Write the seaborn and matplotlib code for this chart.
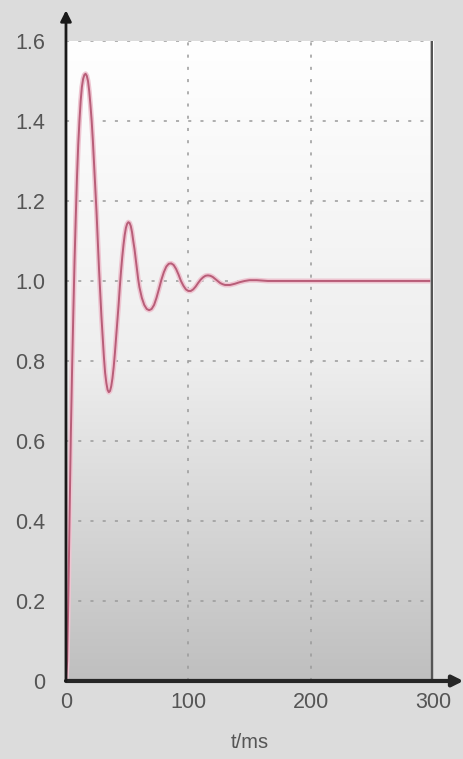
import numpy as np
import pandas as pd
import matplotlib
matplotlib.use("Agg")
import matplotlib.pyplot as plt
import seaborn as sns

# step response (t in ms, y)
t_ms = [0, 1, 2, 3, 4, 5, 6, 7, 8, 9, 10, 11, 12, 13, 14, 15, 16, 17, 18, 19,
        20, 21, 22, 23, 24, 25, 26, 27, 28, 29, 30, 31, 32, 33, 34, 35, 36, 37, 38, 39,
        40, 41, 42, 43, 44, 45, 46, 47, 48, 49, 50, 51, 52, 53, 54, 55, 56, 57, 58, 59,
        60, 62, 64, 66, 68, 70, 72, 74, 76, 78, 80, 82, 84, 86, 88, 90, 92, 94, 96, 98,
        100, 102, 104, 106, 108, 110, 112, 114, 116, 118, 120, 122, 124, 126, 128, 130,
        134, 138, 142, 146, 150, 156, 165, 300]
response = [0.0, 0.05, 0.22, 0.42, 0.62, 0.78, 0.92, 1.05, 1.16, 1.26,
            1.34, 1.40, 1.45, 1.485, 1.505, 1.515, 1.518, 1.513, 1.50, 1.475,
            1.44, 1.40, 1.35, 1.29, 1.23, 1.17, 1.10, 1.03, 0.97, 0.91,
            0.86, 0.81, 0.77, 0.745, 0.728, 0.722, 0.725, 0.737, 0.757, 0.785,
            0.82, 0.86, 0.90, 0.94, 0.985, 1.025, 1.06, 1.09, 1.115, 1.133,
            1.143, 1.147, 1.145, 1.137, 1.122, 1.10, 1.08, 1.055, 1.03, 1.005,
            0.985, 0.958, 0.94, 0.93, 0.927, 0.93, 0.94, 0.958, 0.98, 1.003,
            1.022, 1.036, 1.043, 1.044, 1.04, 1.03, 1.016, 1.0, 0.988, 0.979,
            0.975, 0.975, 0.979, 0.986, 0.995, 1.003, 1.009, 1.013, 1.014, 1.013,
            1.01, 1.005, 1.0, 0.995, 0.992, 0.99,
            0.99, 0.993, 0.997, 1.0, 1.002, 1.002, 1.0, 1.0]

x_ticks = [0, 100, 200, 300]
y_ticks = [0, 0.2, 0.4, 0.6, 0.8, 1.0, 1.2, 1.4, 1.6]
y_ticklabels = ['0', '0.2', '0.4', '0.6', '0.8', '1.0', '1.2', '1.4', '1.6']

df = pd.DataFrame({'t': t_ms, 'y': response})

sns.set_theme(style='white')
plt.rcParams['font.family'] = ['Liberation Sans', 'DejaVu Sans']

fig = plt.figure(figsize=(4.63, 7.59), dpi=100, facecolor='#dcdcdc')
ax = fig.add_axes([0.1425, 0.1028, 0.7927, 0.8432])
ax.set_xlim(0, 300)
ax.set_ylim(0, 1.6)

# background gradient, white at top to grey at bottom
grad = np.linspace(0, 1, 256).reshape(-1, 1)
ax.imshow(grad, extent=(0, 300, 0, 1.6), aspect='auto', origin='upper',
          cmap=matplotlib.colors.LinearSegmentedColormap.from_list('bg', ['#ffffff', '#eeeeee', '#bfbfbf']),
          zorder=0)

# dotted grid
for yv in y_ticks[1:]:
    ax.axhline(yv, color='#9a9a9a', lw=1.1, ls=(0, (2, 6)), zorder=1)
for xv in x_ticks[1:3]:
    ax.axvline(xv, color='#9a9a9a', lw=1.1, ls=(0, (2, 6)), zorder=1)

# the response line with a soft halo
sns.lineplot(data=df, x='t', y='y', ax=ax, color='#eec5d1', lw=3.6, zorder=3)
sns.lineplot(data=df, x='t', y='y', ax=ax, color='#b85d78', lw=1.4, zorder=4)

for s in ax.spines.values():
    s.set_visible(False)

# right border with shadow
ax.axvline(300, color='#b0b0b0', lw=4, zorder=5)
ax.axvline(299.3, color='#555555', lw=2.2, zorder=6)

# axes with arrow heads
ax.annotate('', xy=(1.083, 0), xytext=(0, 0), xycoords='axes fraction',
            arrowprops=dict(arrowstyle='-|>', color='#262626', lw=3, mutation_scale=16,
                            shrinkA=0, shrinkB=0), annotation_clip=False, zorder=7)
ax.annotate('', xy=(0, 1.048), xytext=(0, 0), xycoords='axes fraction',
            arrowprops=dict(arrowstyle='-|>', color='#1a1a1a', lw=2, mutation_scale=16,
                            shrinkA=0, shrinkB=0), annotation_clip=False, zorder=7)

ax.set_xticks(x_ticks)
ax.set_xticklabels([str(v) for v in x_ticks])
ax.set_yticks(y_ticks)
ax.set_yticklabels(y_ticklabels)
ax.tick_params(axis='both', length=0, labelsize=15.5, labelcolor='#555555')
ax.tick_params(axis='x', pad=8)
ax.tick_params(axis='y', pad=15)
ax.set_xlabel('t/ms', fontsize=14.5, color='#555555', labelpad=14)
ax.set_ylabel('')

fig.savefig('out.png', dpi=100, facecolor=fig.get_facecolor())
